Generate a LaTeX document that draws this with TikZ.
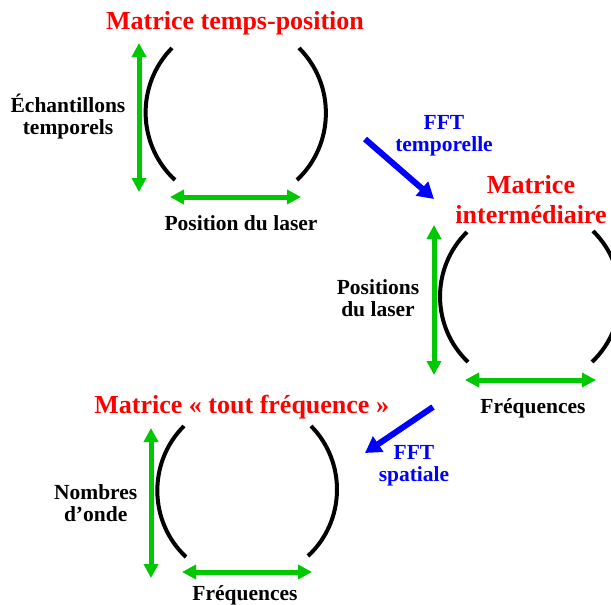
\documentclass[tikz,border=0pt]{standalone}
\usepackage{fontspec}
\setmainfont{Liberation Serif}
\usetikzlibrary{arrows.meta}
\definecolor{titre}{HTML}{FF0000}
\definecolor{fft}{HTML}{0000FF}
\definecolor{axe}{HTML}{00C800}
\tikzset{
  titrebox/.style={font=\fontsize{26}{30}\selectfont\bfseries,text=titre,align=center,anchor=base,inner sep=0pt},
  labelbox/.style={font=\fontsize{21.5}{22}\selectfont\bfseries,align=center,anchor=base,inner sep=0pt},
  axis/.style={{Triangle[length=14pt,width=14pt]}-{Triangle[length=14pt,width=14pt]},line width=5pt,axe},
  fftarrow/.style={-{Triangle[length=16pt,width=18pt]},line width=6pt,fft},
  crochet/.style={line width=4pt}
}

\begin{document}
\begin{tikzpicture}[x=1pt,y=-1pt]
  \useasboundingbox (0,0) rectangle (611,605);
  \clip (0,0) rectangle (611,605);

  % Matrice temps-position
  \node[titrebox] (titre1) at (235,29.3) {Matrice temps-position};
  \coordinate (g1a) at (172,48);  \coordinate (g1b) at (175,180);
  \coordinate (d1a) at (299,48);  \coordinate (d1b) at (297,180);
  \draw[crochet] (g1a) to[bend right=46] (g1b);
  \draw[crochet] (d1a) to[bend left=46] (d1b);
  \coordinate (v1a) at (139,43);  \coordinate (v1b) at (139,192);
  \coordinate (h1a) at (170,197); \coordinate (h1b) at (301,197);
  \draw[axis] (v1a) -- (v1b);
  \draw[axis] (h1a) -- (h1b);
  \node[labelbox] (echant) at (68,134) {Échantillons\\temporels};
  \node[labelbox] (poslaser) at (241,230) {Position du laser};

  % FFT temporelle
  \coordinate (f1a) at (365,139); \coordinate (f1b) at (434,199);
  \draw[fftarrow] (f1a) -- (f1b);
  \node[labelbox,text=fft] (ffttemp) at (444,151.7) {FFT\\temporelle};

  % Matrice intermediaire
  \node[titrebox] (titre2) at (531,223.3) {Matrice\\intermédiaire};
  \coordinate (g2a) at (467,232); \coordinate (g2b) at (468,362);
  \coordinate (d2a) at (593,231); \coordinate (d2b) at (592,362);
  \draw[crochet] (g2a) to[bend right=46] (g2b);
  \draw[crochet] (d2a) to[bend left=46] (d2b);
  \coordinate (v2a) at (434,225); \coordinate (v2b) at (434,375);
  \coordinate (h2a) at (465,380); \coordinate (h2b) at (596,380);
  \draw[axis] (v2a) -- (v2b);
  \draw[axis] (h2a) -- (h2b);
  \node[labelbox] (positions) at (378,316.7) {Positions\\du laser};
  \node[labelbox] (freq2) at (533,413.3) {Fréquences};

  % FFT spatiale
  \coordinate (f2a) at (433,407); \coordinate (f2b) at (365,453);
  \draw[fftarrow] (f2a) -- (f2b);
  \node[labelbox,text=fft] (fftspat) at (414,481.7) {FFT\\spatiale};

  % Matrice tout frequence
  \node[titrebox] (titre3) at (241.7,413.3) {Matrice « tout fréquence »};
  \coordinate (g3a) at (184,426); \coordinate (g3b) at (186,557);
  \coordinate (d3a) at (311,426); \coordinate (d3b) at (308,556);
  \draw[crochet] (g3a) to[bend right=46] (g3b);
  \draw[crochet] (d3a) to[bend left=46] (d3b);
  \coordinate (v3a) at (151,428); \coordinate (v3b) at (151,578);
  \coordinate (h3a) at (182,572); \coordinate (h3b) at (312,572);
  \draw[axis] (v3a) -- (v3b);
  \draw[axis] (h3a) -- (h3b);
  \node[labelbox] (nombres) at (95.7,521.7) {Nombres\\d’onde};
  \node[labelbox] (freq3) at (245,600) {Fréquences};
\end{tikzpicture}
\end{document}
